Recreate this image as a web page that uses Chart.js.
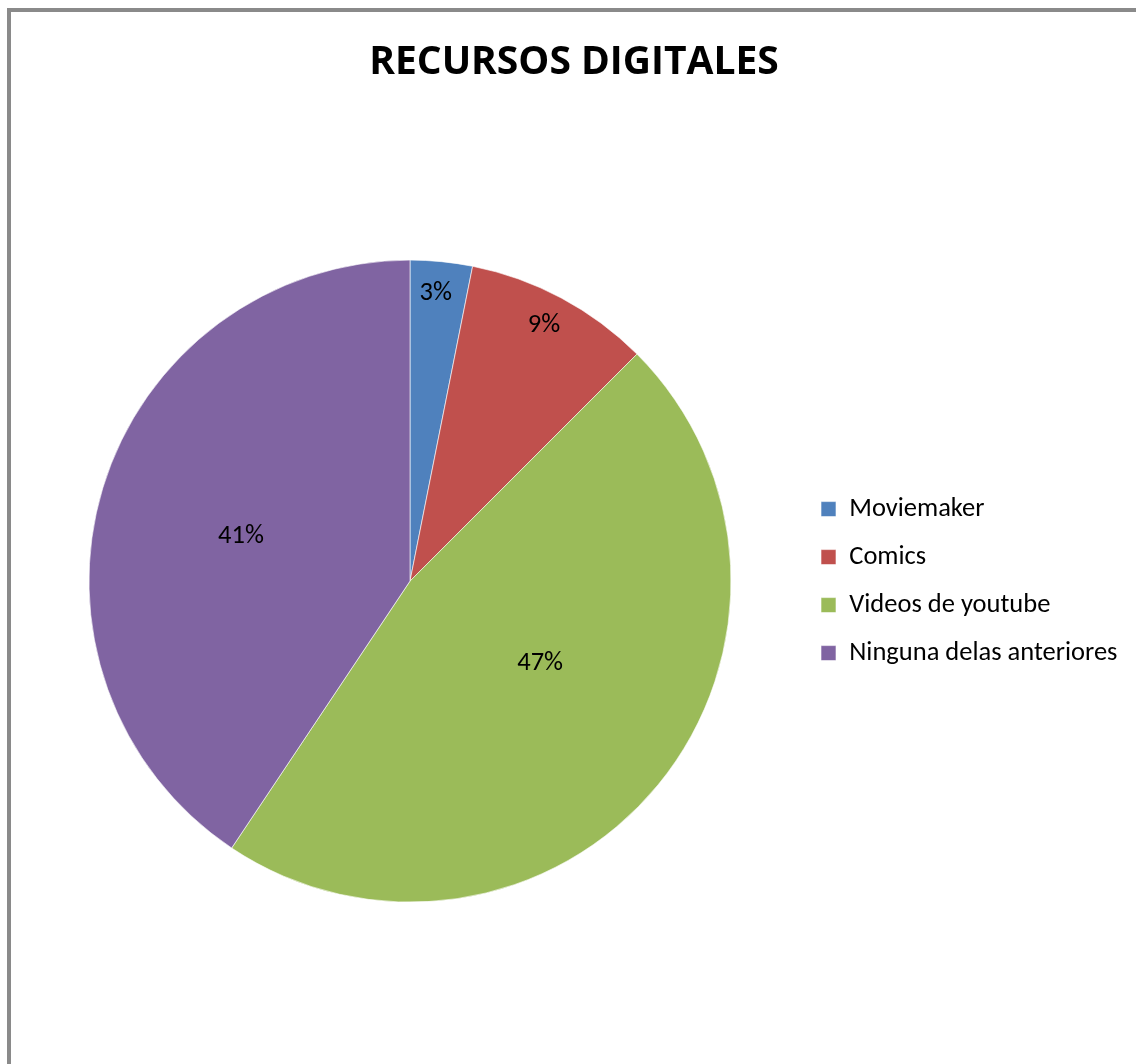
<!DOCTYPE html>
<html>
<head>
<meta charset="utf-8">
<script src="https://cdn.jsdelivr.net/npm/chart.js@4/dist/chart.umd.min.js"></script>
<style>
  html,body{margin:0;padding:0;background:#fff;overflow:hidden;}
  #frame{position:absolute;left:7px;top:8px;width:1140px;height:1070px;border-left:4px solid #8a8a8a;border-top:4px solid #8a8a8a;}
  #wrap{position:absolute;left:12px;top:12px;width:1128px;height:1052px;}
</style>
</head>
<body>
<div id="frame"></div>
<div id="wrap"><canvas id="chart"></canvas></div>
<script>
// data
const labels = ["Moviemaker", "Comics", "Videos de youtube", "Ninguna delas anteriores"];
const counts = [1, 3, 15, 13];
const colors = ["#4F81BD", "#C0504D", "#9BBB59", "#8064A2"];

const FONT = "Calibri, Carlito, Lato, sans-serif";
const TXT = 26.5;
const el = id => document.getElementById(id);

// legend width depends on text, so right padding is worked out from it
const mctx = document.createElement("canvas").getContext("2d");
mctx.font = TXT + "px " + FONT;
const tw = Math.max(...labels.map(l => mctx.measureText(l).width));
const padRight = Math.max(0, 280.75 - tw);

// percent labels inside the slices
const pctLabels = {
  id: "pctLabels",
  afterDatasetsDraw(chart, args, opts){
    const {ctx} = chart;
    const meta = chart.getDatasetMeta(0);
    const data = chart.data.datasets[0].data;
    const total = data.reduce((a,b)=>a+b,0);
    ctx.save();
    ctx.font = TXT + "px " + FONT;
    ctx.fillStyle = "#000";
    ctx.textAlign = "center";
    ctx.textBaseline = "middle";
    meta.data.forEach((arc,i)=>{
      const p = arc.getProps(["x","y","startAngle","endAngle","outerRadius"], true);
      const mid = (p.startAngle + p.endAngle)/2 + opts.shift[i]*Math.PI/180;
      const r = p.outerRadius * opts.dist[i];
      ctx.fillText(Math.round(data[i]/total*100) + "%", p.x + Math.cos(mid)*r, p.y + Math.sin(mid)*r);
    });
    ctx.restore();
  }
};

new Chart(el("chart"), {
  type: "pie",
  data: {
    labels,
    datasets: [{data: counts, backgroundColor: colors, borderColor: "rgba(255,255,255,0.6)", borderWidth: 1, radius: 321}]
  },
  options: {
    responsive: true,
    maintainAspectRatio: false,
    animation: false,
    layout: {padding: {left: 8.5, right: padRight, top: 0, bottom: 86}},
    plugins: {
      title: {
        display: true,
        text: "RECURSOS DIGITALES",
        color: "#000",
        font: {family: "'Open Sans', " + FONT, size: 39, weight: "bold", lineHeight: 1.2},
        padding: {top: 27.2, bottom: 98.2}
      },
      legend: {
        position: "right",
        fullSize: false,
        labels: {
          color: "#000",
          font: {family: FONT, size: TXT},
          boxWidth: 15,
          boxHeight: 15,
          padding: 21.5
        }
      },
      tooltip: {enabled: false},
      pctLabels: {dist: [0.9, 0.9, 0.48, 0.545], shift: [-0.5, -0.5, -7, -2]}
    }
  },
  plugins: [pctLabels]
});
</script>
</body>
</html>
